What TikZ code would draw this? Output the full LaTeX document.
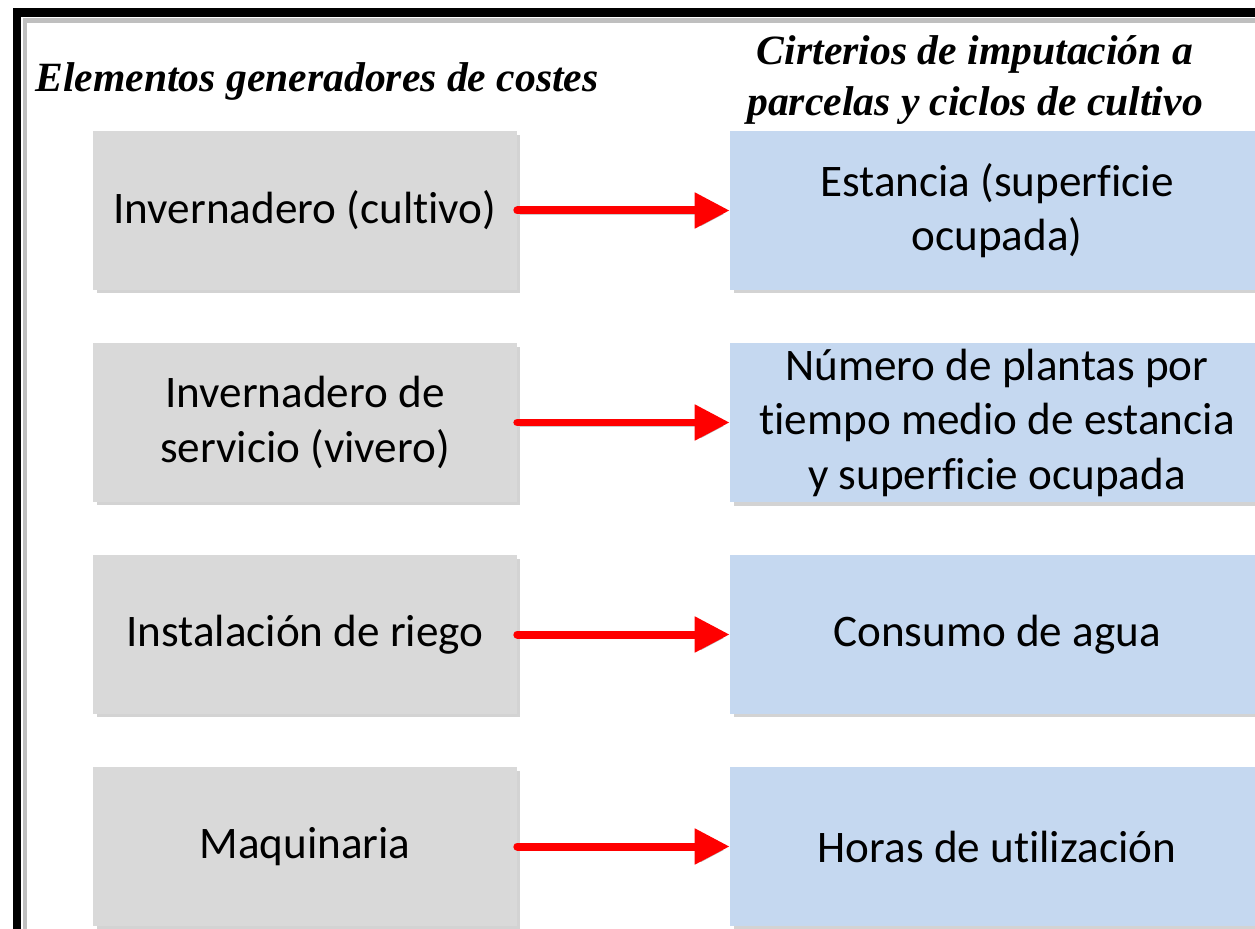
\documentclass[tikz,border=0pt]{standalone}
\usepackage{fontspec}
\setmainfont{Carlito}[Ligatures=NoCommon]
\newfontfamily\titlefont{Liberation Serif}
\usetikzlibrary{arrows.meta,shadows}
\definecolor{boxgray}{RGB}{217,217,217}
\definecolor{boxblue}{RGB}{197,216,240}

\begin{document}
\begin{tikzpicture}[x=0.02cm, y=-0.02cm,
    elem/.style={fill=boxgray, minimum width=8.48cm, minimum height=3.18cm, align=center,
      font=\fontsize{25.7}{31}\selectfont,
      drop shadow={shadow xshift=0.07cm, shadow yshift=-0.07cm, opacity=0.35}},
    crit/.style={elem, fill=boxblue, minimum width=10.68cm},
    flecha/.style={red, line width=0.16cm, line cap=round,
      -{Triangle[length=0.7cm, width=0.68cm]},
      preaction={draw=black, opacity=0.2, transform canvas={shift={(0.05cm,-0.07cm)}}}},
    titulo/.style={font=\titlefont\bfseries\itshape\fontsize{23.7}{28.5}\selectfont, align=center}]
    \useasboundingbox (0,0) rectangle (1255,929);
    \clip (0,0) rectangle (1255,929);
    \draw [black!25, line width=0.1cm] (25,960) -- (25,21) -- (1290,21);
    \draw [line width=0.18cm] (17,960) -- (17,13) -- (1290,13);
    % titles
    \node [titulo] (te) at (317,81) {Elementos generadores de costes};
    \node [titulo] (tc) at (975,80) {Cirterios de imputación a\\parcelas y ciclos de cultivo};
    % boxes
    \node [elem] (e1) at (305,210.5) {Invernadero (cultivo)};
    \node [elem] (e2) at (305,422.5) {Invernadero de\\servicio (vivero)};
    \node [elem] (e3) at (305,634.5) {Instalación de riego};
    \node [elem] (e4) at (305,846.5) {Maquinaria};
    \node [crit] (c1) at (997,210.5) {Estancia (superficie\\ocupada)};
    \node [crit] (c2) at (997,422.5) {Número de plantas por\\tiempo medio de estancia\\y superficie ocupada};
    \node [crit] (c3) at (997,634.5) {Consumo de agua};
    \node [crit] (c4) at (997,846.5) {Horas de utilización};
    \draw [flecha] (e1) to (c1);
    \draw [flecha] (e2) to (c2);
    \draw [flecha] (e3) to (c3);
    \draw [flecha] (e4) to (c4);
  \end{tikzpicture}
\end{document}
